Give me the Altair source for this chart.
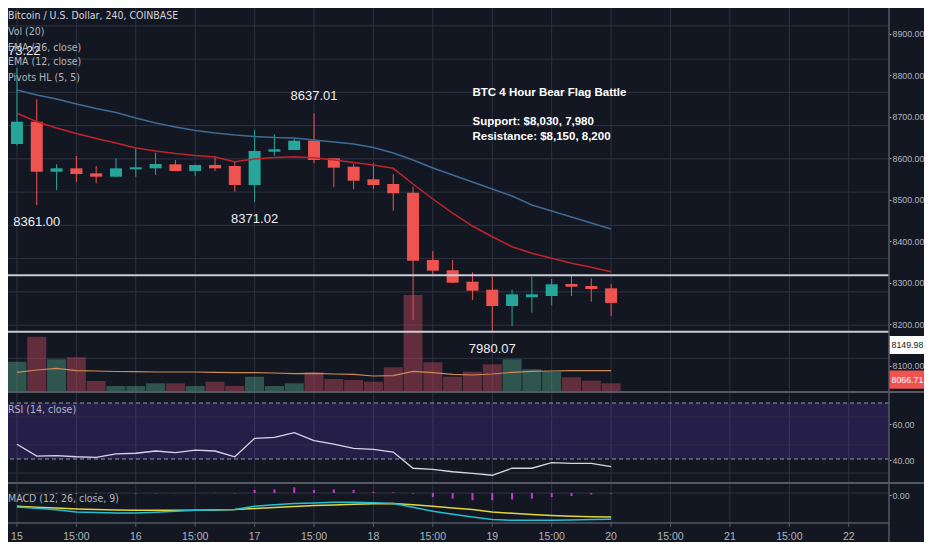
import altair as alt
import pandas as pd

# ---------------- data ----------------
hours = [0, 4, 8, 12, 16, 20, 24, 28, 32, 36, 40, 44, 48, 52, 56, 60,
         64, 68, 72, 76, 80, 84, 88, 92, 96, 100, 104, 108, 112, 116, 120]
opens = [8544.6, 8611.7, 8461.3, 8471.5, 8456.5, 8446.3, 8468.5, 8471.5, 8483.6, 8463.5, 8481.5,
         8478.5, 8421.3, 8521.5, 8526.6, 8554.6, 8501.6, 8476.4, 8438.5, 8424.3, 8398.2,
         8195.8, 8165.0, 8130.5, 8106.5, 8057.4, 8083.6, 8087.5, 8123.6, 8117.6, 8110.6]
highs = [8773.22, 8679.0, 8483.6, 8508.5, 8478.5, 8501.6, 8533.5, 8518.5, 8496.5, 8482.0, 8508.5,
         8491.4, 8586.7, 8573.8, 8561.8, 8637.01, 8502.0, 8484.5, 8486.6, 8453.5, 8416.2,
         8222.8, 8195.8, 8158.8, 8145.5, 8106.5, 8145.5, 8138.6, 8147.6, 8140.7, 8123.6]
lows = [8540.0, 8361.0, 8406.3, 8431.0, 8426.5, 8445.0, 8446.0, 8451.4, 8463.0, 8448.4, 8463.5,
        8401.2, 8371.02, 8509.5, 8526.0, 8486.6, 8414.4, 8408.4, 8408.4, 8344.0, 8015.3,
        8152.8, 8125.7, 8075.5, 7980.07, 7997.3, 8037.3, 8059.5, 8087.5, 8070.4, 8027.4]
closes = [8611.7, 8461.3, 8471.5, 8454.4, 8446.3, 8471.5, 8474.6, 8484.5, 8463.5, 8481.5, 8471.5,
          8421.3, 8523.6, 8528.7, 8554.6, 8496.5, 8473.4, 8434.3, 8421.3, 8396.4, 8193.7,
          8163.6, 8127.5, 8103.5, 8057.4, 8092.6, 8092.6, 8122.7, 8115.5, 8108.6, 8066.71]
volumes = [1192, 2192, 1288, 1368, 420, 220, 220, 328, 328, 220, 392, 220, 592, 220, 328, 768,
           500, 460, 392, 968, 3860, 1168, 592, 792, 1088, 1288, 888, 792, 568, 432, 328]
vol_ma = [768, 860, 928, 832, 820, 800, 792, 780, 780, 780, 768, 752, 752, 740, 712, 728,
          700, 688, 620, 632, 808, 752, 688, 660, 700, 768, 808, 820, 832, 832, 832]
ema26 = [8707.0, 8692.0, 8680.0, 8664.9, 8651.4, 8639.4, 8622.8, 8607.8, 8595.8, 8585.2, 8577.7,
         8571.7, 8567.2, 8564.2, 8562.7, 8556.7, 8550.6, 8544.6, 8534.1, 8517.6, 8496.5,
         8472.4, 8451.4, 8430.3, 8409.3, 8388.2, 8361.2, 8343.1, 8325.1, 8307.0, 8289.0]
ema12 = [8637.0, 8611.7, 8592.7, 8576.2, 8561.2, 8547.6, 8532.6, 8523.6, 8516.1, 8510.0, 8505.5,
         8491.4, 8499.5, 8504.0, 8506.4, 8503.4, 8496.5, 8489.0, 8481.5, 8471.5, 8424.3,
         8379.2, 8337.1, 8298.0, 8265.8, 8235.8, 8215.9, 8200.9, 8185.8, 8173.8, 8160.6]
rsi = [40.5, 32.1, 32.4, 31.6, 31.2, 33.6, 34.1, 35.7, 34.5, 36.4, 35.7, 31.6, 44.8, 45.5, 48.8,
       43.1, 40.7, 37.6, 36.9, 35.0, 23.4, 22.6, 20.9, 19.8, 18.4, 23.4, 23.4, 27.4, 26.9, 26.9, 24.5]
macd = [-70, -76.5, -84, -95, -98, -100, -100, -96.5, -91.5, -86.5, -85, -83, -66.5, -59, -53,
        -50, -46.5, -46.5, -49, -53, -71.5, -91.5, -106.5, -120, -133, -136.5, -136.5, -136.5,
        -135, -133, -131.5]
signal = [-66.5, -71.5, -75.5, -80, -83, -85, -86.5, -86.5, -86.5, -86.5, -85, -83, -78, -73, -68,
          -63, -60, -56.5, -54, -53, -59, -66.5, -75, -83, -95, -101.5, -108, -113, -116.5, -119, -120]
hist = [-1, -2, -6, -4, -5, -4, -3, -2, -1, -1, 1, -2, 15, 18, 28, 15, 18, 15, 6, 3, -3,
        -20, -28, -36, -36, -33, -28, -20, -15, -8, -3]

pivot_hours = [0, 4, 48, 60, 96]
pivot_prices = [8773.22, 8361.00, 8371.02, 8637.01, 7980.07]
pivot_kinds = ["high", "low", "low", "high", "low"]

level_prices = [8150, 7980]

note_lines = ["BTC 4 Hour Bear Flag Battle", "Support: $8,030, 7,980", "Resistance: $8,150, 8,200"]
note_hour = [92, 92, 92]
note_price = [8698, 8610, 8565]

tick_hours = [0, 12, 24, 36, 48, 60, 72, 84, 96, 108, 120, 132, 144, 156, 168]
tick_labels = ["15", "15:00", "16", "15:00", "17", "15:00", "18", "15:00", "19", "15:00",
               "20", "15:00", "21", "15:00", "22"]
price_grid = [7800, 7900, 8000, 8100, 8200, 8300, 8400, 8500, 8600, 8700, 8800, 8900]
price_ticks = [8100, 8200, 8300, 8400, 8500, 8600, 8700, 8800, 8900]
rsi_grid = [20, 40, 60]
rsi_ticks = [40, 60]
rsi_band = [70, 30]
macd_grid = [0]
macd_ticks = [0]

badge_prices = [8149.98, 8066.71]
badge_fill = ["#ffffff", "#ef5350"]
badge_ink = ["#131722", "#ffffff"]

legend_lines = ["Bitcoin / U.S. Dollar, 240, COINBASE", "Vol (20)", "EMA (26, close)",
                "EMA (12, close)", "Pivots HL (5, 5)"]

# ---------------- style ----------------
BG = "#131722"
GRID = "#2e3240"
SEP = "#555964"
TXT = "#b2b5be"
UP = "#26a69a"
DOWN = "#ef5350"
COND = "DejaVu Sans Condensed, sans-serif"
SANS = "Liberation Sans, Arial, sans-serif"
W, H = 881, 515
TOTAL_W, TOTAL_H = 916, 534

df = pd.DataFrame(dict(hour=hours, open=opens, high=highs, low=lows, close=closes,
                       volume=volumes, vol_ma=vol_ma, ema26=ema26, ema12=ema12,
                       rsi=rsi, macd=macd, signal=signal, hist=hist))
piv = pd.DataFrame(dict(hour=pivot_hours, price=pivot_prices, kind=pivot_kinds))
piv["label"] = [f"{p:.2f}" for p in pivot_prices]
lv = pd.DataFrame(dict(price=level_prices))
notes = pd.DataFrame(dict(hour=note_hour, price=note_price, text=note_lines))
badges = pd.DataFrame(dict(price=badge_prices, fill=badge_fill, ink=badge_ink,
                           label=[f"{p:.2f}" for p in badge_prices]))
ticks_df = pd.DataFrame(dict(hour=tick_hours, label=tick_labels))

xscale = alt.Scale(domain=[-0.8, 175.12], nice=False, zero=False)


def X():
    return alt.X("hour:Q", scale=xscale, axis=None)


def label_axis(vals):
    return alt.Axis(values=vals, orient="right", format=".2f", grid=False, domain=False,
                    ticks=True, tickSize=2, tickColor=TXT, labelColor=TXT, labelFont=SANS,
                    labelFontSize=8.8, labelPadding=1, title=None, zindex=0)


cond = "datum.close >= datum.open"
base = alt.Chart(df)

# ---------------- time axis: grid, ticks, labels ----------------
t_base = alt.Chart(ticks_df)
x_grid = t_base.mark_rule(color=GRID, strokeWidth=1).encode(x=X())
x_ticks = t_base.mark_rule(color=SEP, strokeWidth=1).encode(
    x=X(), y=alt.value(515), y2=alt.value(519))
x_labels = t_base.mark_text(font=SANS, fontSize=10.5, color=TXT, baseline="middle").encode(
    x=X(), y=alt.value(529), text="label:N")

# ---------------- price pane ----------------
p_scale = alt.Scale(domain=[7800, 8900], range=[383.6, 17.85], nice=False, zero=False)


def PY(field):
    return alt.Y(field, type="quantitative", scale=p_scale, axis=None)


p_grid = alt.Chart(pd.DataFrame({"p": price_grid})).mark_rule(color=GRID, strokeWidth=1).encode(
    y=PY("p"))
wicks = base.mark_rule(strokeWidth=1).encode(
    x=X(), y=PY("low"), y2="high:Q",
    color=alt.condition(cond, alt.value(UP), alt.value(DOWN)))
bodies = base.mark_bar(size=12).encode(
    x=X(), y=PY("open"), y2="close:Q",
    color=alt.condition(cond, alt.value(UP), alt.value(DOWN)))
ema26_line = base.mark_line(color="#3f6a94", strokeWidth=1.5).encode(x=X(), y=PY("ema26"))
ema12_line = base.mark_line(color="#c0232c", strokeWidth=1.5).encode(x=X(), y=PY("ema12"))
levels = alt.Chart(lv).mark_rule(color="#c9ccd3", strokeWidth=2).encode(y=PY("price"))
piv_hi = alt.Chart(piv).transform_filter("datum.kind == 'high'").mark_text(
    dy=-17, font=SANS, fontSize=13, color="#eceef2", baseline="middle").encode(
    x=X(), y=PY("price"), text="label:N")
piv_lo = alt.Chart(piv).transform_filter("datum.kind == 'low'").mark_text(
    dy=17, font=SANS, fontSize=13, color="#eceef2", baseline="middle").encode(
    x=X(), y=PY("price"), text="label:N")
note = alt.Chart(notes).mark_text(align="left", baseline="middle", font=SANS, fontSize=11.5,
                                  fontWeight="bold", color="#ffffff").encode(
    x=X(), y=PY("price"), text="text:N")

price_group = alt.layer(wicks, bodies, ema26_line, ema12_line, levels, piv_hi, piv_lo, note)

# ---------------- volume ----------------
v_scale = alt.Scale(domain=[0, 4000], range=[383.5, 283.5], nice=False)
vol_bars = base.mark_bar(size=19, opacity=0.45).encode(
    x=X(), y=alt.Y("volume:Q", scale=v_scale, axis=None),
    color=alt.condition(cond, alt.value("#53a585"), alt.value("#c44a5e")))
vol_line = base.mark_line(color="#d08a55", strokeWidth=1.2).encode(
    x=X(), y=alt.Y("vol_ma:Q", scale=v_scale, axis=None))
vol_group = alt.layer(vol_bars, vol_line)

# ---------------- RSI ----------------
r_scale = alt.Scale(domain=[0, 100], range=[493, 353], nice=False, zero=False)


def RY(field):
    return alt.Y(field, type="quantitative", scale=r_scale, axis=None)


band = alt.Chart(pd.DataFrame({"top": [rsi_band[0]], "bottom": [rsi_band[1]]})).mark_rect(
    color="#6a3ad0", opacity=0.22).encode(y=RY("top"), y2="bottom:Q")
r_grid = alt.Chart(pd.DataFrame({"v": rsi_grid})).mark_rule(color=GRID, strokeWidth=1).encode(
    y=RY("v"))
dashed = alt.Chart(pd.DataFrame({"lvl": rsi_band})).mark_rule(
    color="#9598a1", strokeDash=[4, 3], strokeWidth=1).encode(y=RY("lvl"))
rsi_line = base.mark_line(color="#d9d3e8", strokeWidth=1.3).encode(x=X(), y=RY("rsi"))
rsi_group = alt.layer(band, r_grid, dashed, rsi_line)

# ---------------- MACD ----------------
m_scale = alt.Scale(domain=[-150, 50], range=[515, 475], nice=False, zero=False)


def MY(field):
    return alt.Y(field, type="quantitative", scale=m_scale, axis=None)


m_grid = alt.Chart(pd.DataFrame({"v": macd_grid})).mark_rule(color=GRID, strokeWidth=1).encode(
    y=MY("v"))
hist_bars = base.mark_rule(color="#c23ad0", strokeWidth=2).encode(
    x=X(), y=MY("hist"), y2=alt.datum(0))
signal_line = base.mark_line(color="#e3d53a", strokeWidth=1.5).encode(x=X(), y=MY("signal"))
macd_line = base.mark_line(color="#22c1d6", strokeWidth=1.5).encode(x=X(), y=MY("macd"))
macd_group = alt.layer(m_grid, hist_bars, signal_line, macd_line)

# ---------------- right-hand price labels ----------------
pl_scale = alt.Scale(domain=[8100, 8900], range=[357.8, 25.5], nice=False, zero=False)
pl_axis = label_axis(price_ticks)
badge_box = alt.Chart(badges).mark_point(
    shape="M-1,-0.42H1V0.42H-1Z", filled=True, size=1849, opacity=1, strokeWidth=0).encode(
    x=alt.value(902.5), y=alt.Y("price:Q", scale=pl_scale, axis=pl_axis),
    fill=alt.Fill("fill:N", scale=None))
badge_txt = alt.Chart(badges).mark_text(align="left", baseline="middle", font=SANS,
                                        fontSize=8.8).encode(
    x=alt.value(883.5), y=alt.Y("price:Q", scale=pl_scale, axis=pl_axis),
    text="label:N", color=alt.Color("ink:N", scale=None))
pl_group = alt.layer(badge_box, badge_txt)

rl_scale = alt.Scale(domain=[40, 60], range=[452, 416], nice=False, zero=False)
rl_group = alt.Chart(pd.DataFrame({"v": rsi_ticks})).mark_point(opacity=0).encode(
    y=alt.Y("v:Q", scale=rl_scale, axis=label_axis(rsi_ticks)))

ml_scale = alt.Scale(domain=[-10, 10], range=[497, 477], nice=False, zero=False)
ml_group = alt.Chart(pd.DataFrame({"v": macd_ticks})).mark_point(opacity=0).encode(
    y=alt.Y("v:Q", scale=ml_scale, axis=label_axis(macd_ticks)))

# ---------------- chrome: separators, legend text ----------------
one = pd.DataFrame({"k": [0]})


def hsep(y, x2=TOTAL_W, width=2):
    return alt.Chart(one).mark_rule(color=SEP, strokeWidth=width).encode(
        x=alt.value(0), x2=alt.value(x2), y=alt.value(y))


vline = alt.Chart(one).mark_rule(color=SEP, strokeWidth=1.5).encode(
    x=alt.value(W), y=alt.value(0), y2=alt.value(TOTAL_H))


def label(txt, y, color=TXT, size=10.5):
    return alt.Chart(pd.DataFrame({"t": [txt]})).mark_text(
        align="left", baseline="middle", font=COND, fontSize=size, color=color).encode(
        x=alt.value(0), y=alt.value(y), text="t:N")


legend_y = [7.5, 24, 39.5, 54, 70]
legend = [label(t, y, color="#d1d4dc" if i == 0 else TXT)
          for i, (t, y) in enumerate(zip(legend_lines, legend_y))]
pane_labels = [label("RSI (14, close)", 402), label("MACD (12, 26, close, 9)", 491)]

chart = alt.layer(
    x_grid, p_grid, rsi_group, vol_group, price_group, macd_group,
    pl_group, rl_group, ml_group,
    hsep(384), hsep(475), hsep(515, x2=W, width=1.5), vline, x_ticks, x_labels,
    *legend, *pane_labels
).resolve_scale(y="independent").properties(
    width=W, height=H, background=BG,
    padding={"left": 0, "top": 0, "right": TOTAL_W - W, "bottom": TOTAL_H - H},
    autosize=alt.AutoSizeParams(type="none"),
).configure_view(stroke=None)

chart.save("out.html", embed_options={"renderer": "svg", "actions": False})
